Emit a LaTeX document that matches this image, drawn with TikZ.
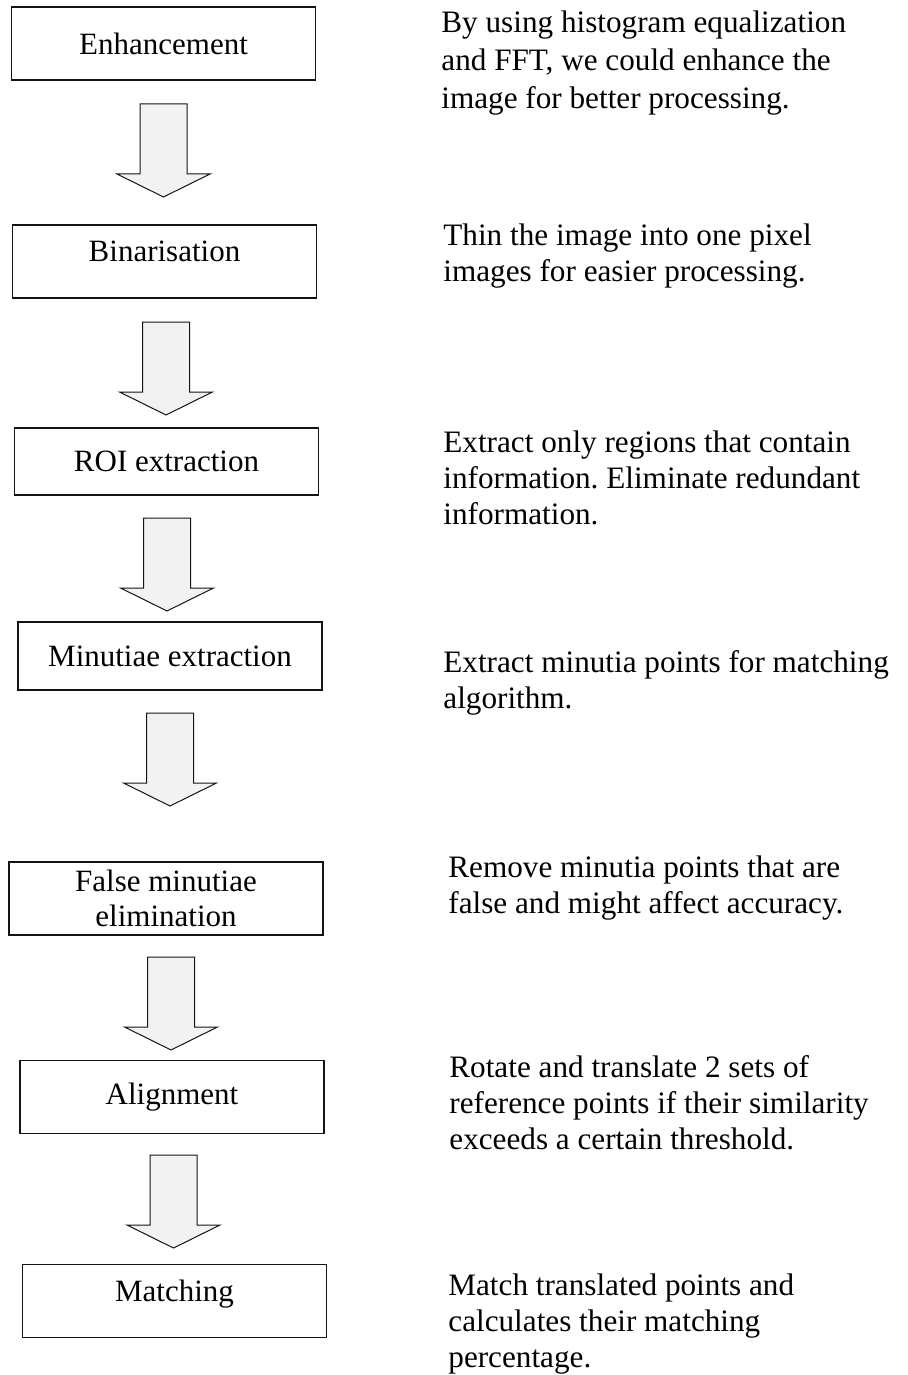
\documentclass[tikz,border=0pt]{standalone}
\usepackage{fontspec}
\setmainfont{Liberation Serif}
\usepackage{tikz}
\definecolor{line_black}{RGB}{20,20,20}
\definecolor{arrow_fill}{RGB}{242,242,242}
\frenchspacing

\begin{document}
\begin{tikzpicture}[x=0.5pt,y=-0.5pt]
    \tikzstyle{stage}=[draw=line_black, line width=0.8pt, rectangle, minimum width=152pt, minimum height=36.5pt, inner sep=0pt, align=center, font=\fontsize{15.5}{17.5}\selectfont]
    \tikzstyle{stageup}=[style=stage, text depth=10pt]
    \tikzstyle{note}=[anchor=north west, inner sep=0pt, align=left, font=\fontsize{15.6}{18}\selectfont]
    \tikzstyle{flow}=[draw=line_black, line width=0.5pt, fill=arrow_fill, line join=miter]

    \useasboundingbox (0,0) rectangle (908,1375);

    % steps
    \node[stage]   (enh) at (163.5,43.5) {Enhancement};
    \node[stageup] (bin) at (164.5,261.5) {Binarisation};
    \node[stage, minimum height=33.5pt] (roi) at (166.5,461.5) {ROI extraction};
    \node[stage, minimum height=34pt]   (mex) at (170,656) {Minutiae extraction};
    \node[stage, minimum width=157pt]   (fme) at (166,898.5) {False minutiae\\elimination};
    \node[stage]   (ali) at (172,1097) {Alignment};
    \node[stageup] (mat) at (174.5,1301) {Matching};

    % block arrows
    \foreach \x/\y in {140/104, 142.5/322, 143.5/518, 146.5/713, 147.5/957, 150/1155}
        \draw[flow] (\x,\y) -- ++(47,0) -- ++(0,70) -- ++(23,0) -- ++(-46.5,23) -- ++(-46.5,-23) -- ++(23,0) -- cycle;

    % descriptions
    \node[note, font=\fontsize{15.6}{19}\selectfont] (enh_txt) at (441,10) {By using histogram equalization\\and FFT, we could enhance the\\image for better processing.};
    \node[note] (bin_txt) at (443,223)  {Thin the image into one pixel\\images for easier processing.};
    \node[note] (roi_txt) at (443,430)  {Extract only regions that contain\\information. Eliminate redundant\\information.};
    \node[note] (mex_txt) at (443,650)  {Extract minutia points for matching\\algorithm.};
    \node[note] (fme_txt) at (448,855)  {Remove minutia points that are\\false and might affect accuracy.};
    \node[note] (ali_txt) at (449,1055) {Rotate and translate 2 sets of\\reference points if their similarity\\exceeds a certain threshold.};
    \node[note] (mat_txt) at (448,1273) {Match translated points and\\calculates their matching\\percentage.};
\end{tikzpicture}
\end{document}
